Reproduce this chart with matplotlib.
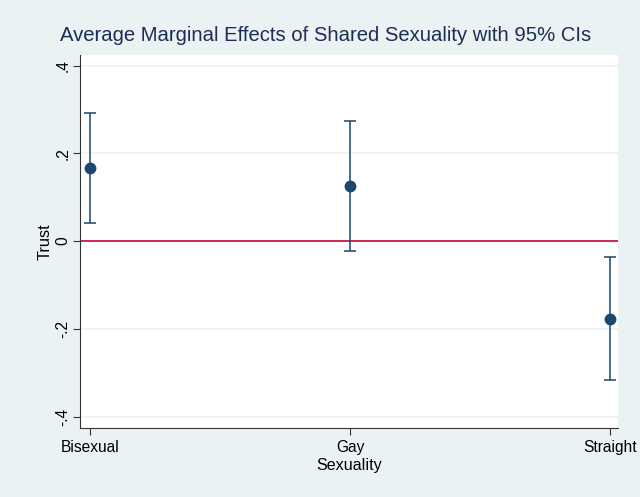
import matplotlib.pyplot as plt

# Datos
categorias = ["Bisexual", "Gay", "Straight"]
efectos = [0.167, 0.125, -0.177]
ci_bajo = [0.041, -0.022, -0.317]
ci_alto = [0.292, 0.275, -0.037]
ticks_y = [-0.4, -0.2, 0, 0.2, 0.4]
etiquetas_y = ["-.4", "-.2", "0", ".2", ".4"]

plt.rcParams['font.family'] = ['Liberation Sans', 'DejaVu Sans']

azul = "#1A476F"
fondo = "#EAF2F3"

fig = plt.figure(figsize=(6.4, 4.97), dpi=100, facecolor=fondo)
ax = fig.add_axes([0.125, 0.139, 0.8406, 0.75])
ax.set_facecolor("white")

x = list(range(1, len(categorias) + 1))
err = [[e - b for e, b in zip(efectos, ci_bajo)], [a - e for e, a in zip(efectos, ci_alto)]]

for t in ticks_y:
    ax.axhline(t, color=fondo, lw=1.2, zorder=0)
ax.axhline(0, color="#C10534", lw=1.2, zorder=1)

ax.errorbar(x, efectos, yerr=err, fmt="o", color=azul, ecolor=azul, markersize=7.5,
            elinewidth=1.1, capsize=4.5, capthick=1.1, zorder=3)

ax.set_xlim(0.9615, 3.031)
ax.set_ylim(-0.426, 0.424)
ax.set_xticks(x)
ax.set_xticklabels(categorias, fontsize=11.2)
ax.set_yticks(ticks_y)
ax.set_yticklabels(etiquetas_y, rotation=90, va="center", fontsize=11.2)

ax.spines["top"].set_visible(False)
ax.spines["right"].set_visible(False)
ax.spines["left"].set_color("#333333")
ax.spines["bottom"].set_color("#333333")
ax.tick_params(axis="both", length=5, color="#333333")
ax.tick_params(axis="y", pad=2)

ax.set_xlabel("Sexuality", fontsize=11.6, labelpad=2)
ax.set_ylabel("Trust", fontsize=11.8, labelpad=2)
fig.suptitle("Average Marginal Effects of Shared Sexuality with 95% CIs",
             x=0.508, y=0.947, fontsize=14.6, color="#1E2D53")

fig.savefig("out.png", dpi=100, facecolor=fondo)
